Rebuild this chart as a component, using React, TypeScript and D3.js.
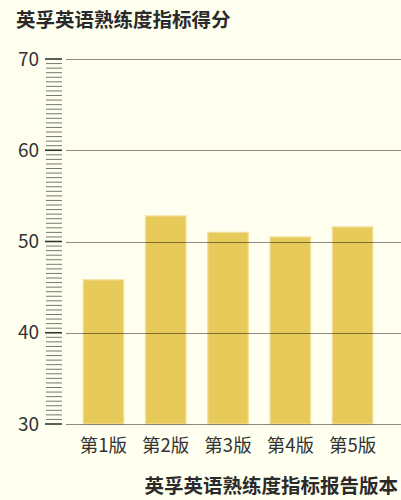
import React from 'react';
import * as d3 from 'd3';

const categories = ['第1版', '第2版', '第3版', '第4版', '第5版'];
const scores = [45.8, 52.8, 51.0, 50.5, 51.6];
const majorTicks = [30, 40, 50, 60, 70];
const chartTitle = '英孚英语熟练度指标得分';
const xTitle = '英孚英语熟练度指标报告版本';

const W = 401;
const H = 500;
const FONT = '"Noto Sans CJK SC", "Noto Sans", sans-serif';

export default function App() {
  const plotLeft = 66;
  const plotTop = 59;
  const plotBottom = 424;

  const y = d3.scaleLinear().domain([30, 70]).range([plotBottom, plotTop]);
  const x = d3.scaleBand<string>()
    .domain(categories)
    .range([72, 384])
    .paddingInner(0.35)
    .paddingOuter(0.18);

  // minor ticks every 0.5 between the majors
  const minorTicks = d3.range(30, 70.01, 0.5).filter(v => Math.abs(v % 10) > 0.01);

  return (
    <svg
      width={W}
      height={H}
      style={{ position: 'absolute', left: 0, top: 0, background: '#fffff0', fontFamily: FONT }}
    >
      <rect x={0} y={0} width={W} height={H} fill="#fffff0" />

      {/* title */}
      <text x={16} y={27} fontSize={19.5} fontWeight="bold" fill="#2a2a2a">{chartTitle}</text>

      {/* bars */}
      {categories.map((c, i) => (
        <rect
          key={c}
          x={x(c)}
          y={y(scores[i])}
          width={x.bandwidth()}
          height={plotBottom - y(scores[i])}
          fill="#e8ca5a"
          stroke="#f2df98"
          strokeWidth={1.2}
        />
      ))}

      {/* grid lines on top of bars */}
      {majorTicks.map(t => (
        <line
          key={t}
          x1={plotLeft}
          x2={W}
          y1={Math.round(y(t)) + 0.5}
          y2={Math.round(y(t)) + 0.5}
          stroke="#000"
          strokeOpacity={0.45}
          strokeWidth={1}
        />
      ))}

      {/* minor ticks */}
      {minorTicks.map(t => (
        <line
          key={'m' + t}
          x1={46}
          x2={62}
          y1={y(t)}
          y2={y(t)}
          stroke="#666"
          strokeWidth={0.9}
        />
      ))}

      {/* major ticks + labels */}
      {majorTicks.map(t => (
        <g key={'M' + t}>
          <line x1={45} x2={62} y1={y(t)} y2={y(t)} stroke="#333" strokeWidth={1.6} />
          <text
            x={39}
            y={y(t)}
            dy="0.35em"
            textAnchor="end"
            fontSize={19}
            fill="#333"
          >
            {t}
          </text>
        </g>
      ))}

      {/* category labels */}
      {categories.map(c => (
        <text
          key={'l' + c}
          x={(x(c) || 0) + x.bandwidth() / 2}
          y={452}
          textAnchor="middle"
          fontSize={18.5}
          fill="#333"
        >
          {c}
        </text>
      ))}

      {/* x axis title */}
      <text x={398} y={493} textAnchor="end" fontSize={19.5} fontWeight="bold" fill="#2a2a2a">
        {xTitle}
      </text>
    </svg>
  );
}
